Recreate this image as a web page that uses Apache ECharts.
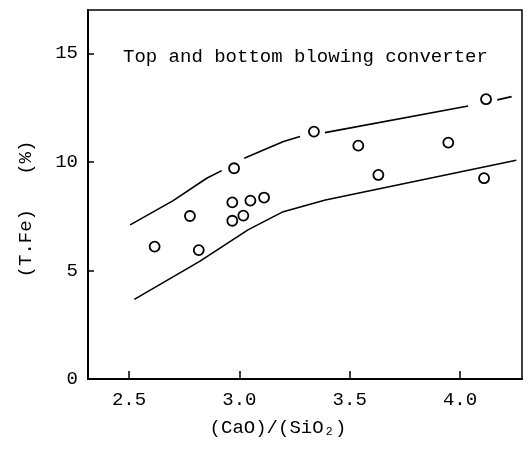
<!DOCTYPE html>
<html>
<head>
<meta charset="utf-8">
<script src="https://cdn.jsdelivr.net/npm/echarts@6.0.0/dist/echarts.min.js"></script>
<style>
html,body{margin:0;padding:0;background:#fff;}
#chart{width:529px;height:450px;}
</style>
</head>
<body>
<div id="chart"></div>
<script>
// ---- data ----
const xTicks = [2.5, 3.0, 3.5, 4.0];
const yTicks = [0, 5, 10, 15];
const pointsX = [2.616, 2.776, 2.816, 2.968, 2.968, 2.976, 3.018, 3.050, 3.112, 3.338, 3.539, 3.630, 3.947, 4.109, 4.118];
const pointsY = [6.10, 7.51, 5.94, 8.14, 7.29, 9.71, 7.53, 8.22, 8.36, 11.40, 10.75, 9.40, 10.89, 9.25, 12.89];
const upperSeg1 = [[2.505, 7.10], [2.70, 8.22], [2.852, 9.25], [2.92, 9.60]];
const upperSeg2 = [[3.022, 10.17], [3.20, 10.94], [3.275, 11.17]];
const upperSeg3 = [[3.388, 11.35], [4.037, 12.58]];
const upperSeg4 = [[4.169, 12.86], [4.234, 13.01]];
const lowerLine = [[2.524, 3.67], [2.82, 5.42], [3.039, 6.87], [3.199, 7.71], [3.39, 8.25], [4.255, 10.08]];
const titleText = 'Top and bottom blowing converter';
const xName = '(CaO)/(SiO\u2082)';
const yName = '(T.Fe)   (%)';

const FONT = '"Liberation Mono", "DejaVu Sans Mono", monospace';
const chart = echarts.init(document.getElementById('chart'), null, {renderer: 'canvas'});

const lineStyle = {color: '#000', width: 1.6};
function seg(d) {
  return {type: 'line', data: d, showSymbol: false, symbol: 'none', lineStyle: lineStyle, silent: true, z: 2};
}

chart.setOption({
  animation: false,
  backgroundColor: '#fff',
  grid: {left: 88, right: 7, top: 10, bottom: 71, show: true, borderColor: '#000', borderWidth: 1.5},
  xAxis: {
    type: 'value', min: 2.314, max: 4.281,
    axisLine: {show: true, lineStyle: {color: '#000', width: 2}},
    axisTick: {show: true, inside: true, length: 8, lineStyle: {color: '#000', width: 1.5}, customValues: xTicks},
    axisLabel: {color: '#000', fontFamily: FONT, fontSize: 19, margin: 11, customValues: xTicks,
      formatter: v => Number(v).toFixed(1)},
    splitLine: {show: false}
  },
  yAxis: {
    type: 'value', min: 0, max: 17,
    axisLine: {show: true, lineStyle: {color: '#000', width: 2}},
    axisTick: {show: true, inside: true, length: 6, lineStyle: {color: '#000', width: 1.5}, customValues: yTicks},
    axisLabel: {color: '#000', fontFamily: FONT, fontSize: 19, margin: 10, customValues: yTicks},
    splitLine: {show: false}
  },
  graphic: [
    {type: 'text', left: 123, top: 47, style: {text: titleText, font: '19px ' + FONT, fill: '#000'}},
    {type: 'text', x: 278, y: 428, style: {text: xName, font: '19px ' + FONT, fill: '#000', align: 'center', verticalAlign: 'middle'}},
    {type: 'text', x: 26, y: 209, rotation: Math.PI / 2, style: {text: yName, font: '19px ' + FONT, fill: '#000', align: 'center', verticalAlign: 'middle'}}
  ],
  series: [
    seg(upperSeg1), seg(upperSeg2), seg(upperSeg3), seg(upperSeg4), seg(lowerLine),
    {
      type: 'scatter',
      data: pointsX.map((x, i) => [x, pointsY[i]]),
      symbol: 'circle', symbolSize: 10,
      itemStyle: {color: '#fff', borderColor: '#000', borderWidth: 1.8, opacity: 1},
      z: 3
    }
  ]
});
</script>
</body>
</html>
